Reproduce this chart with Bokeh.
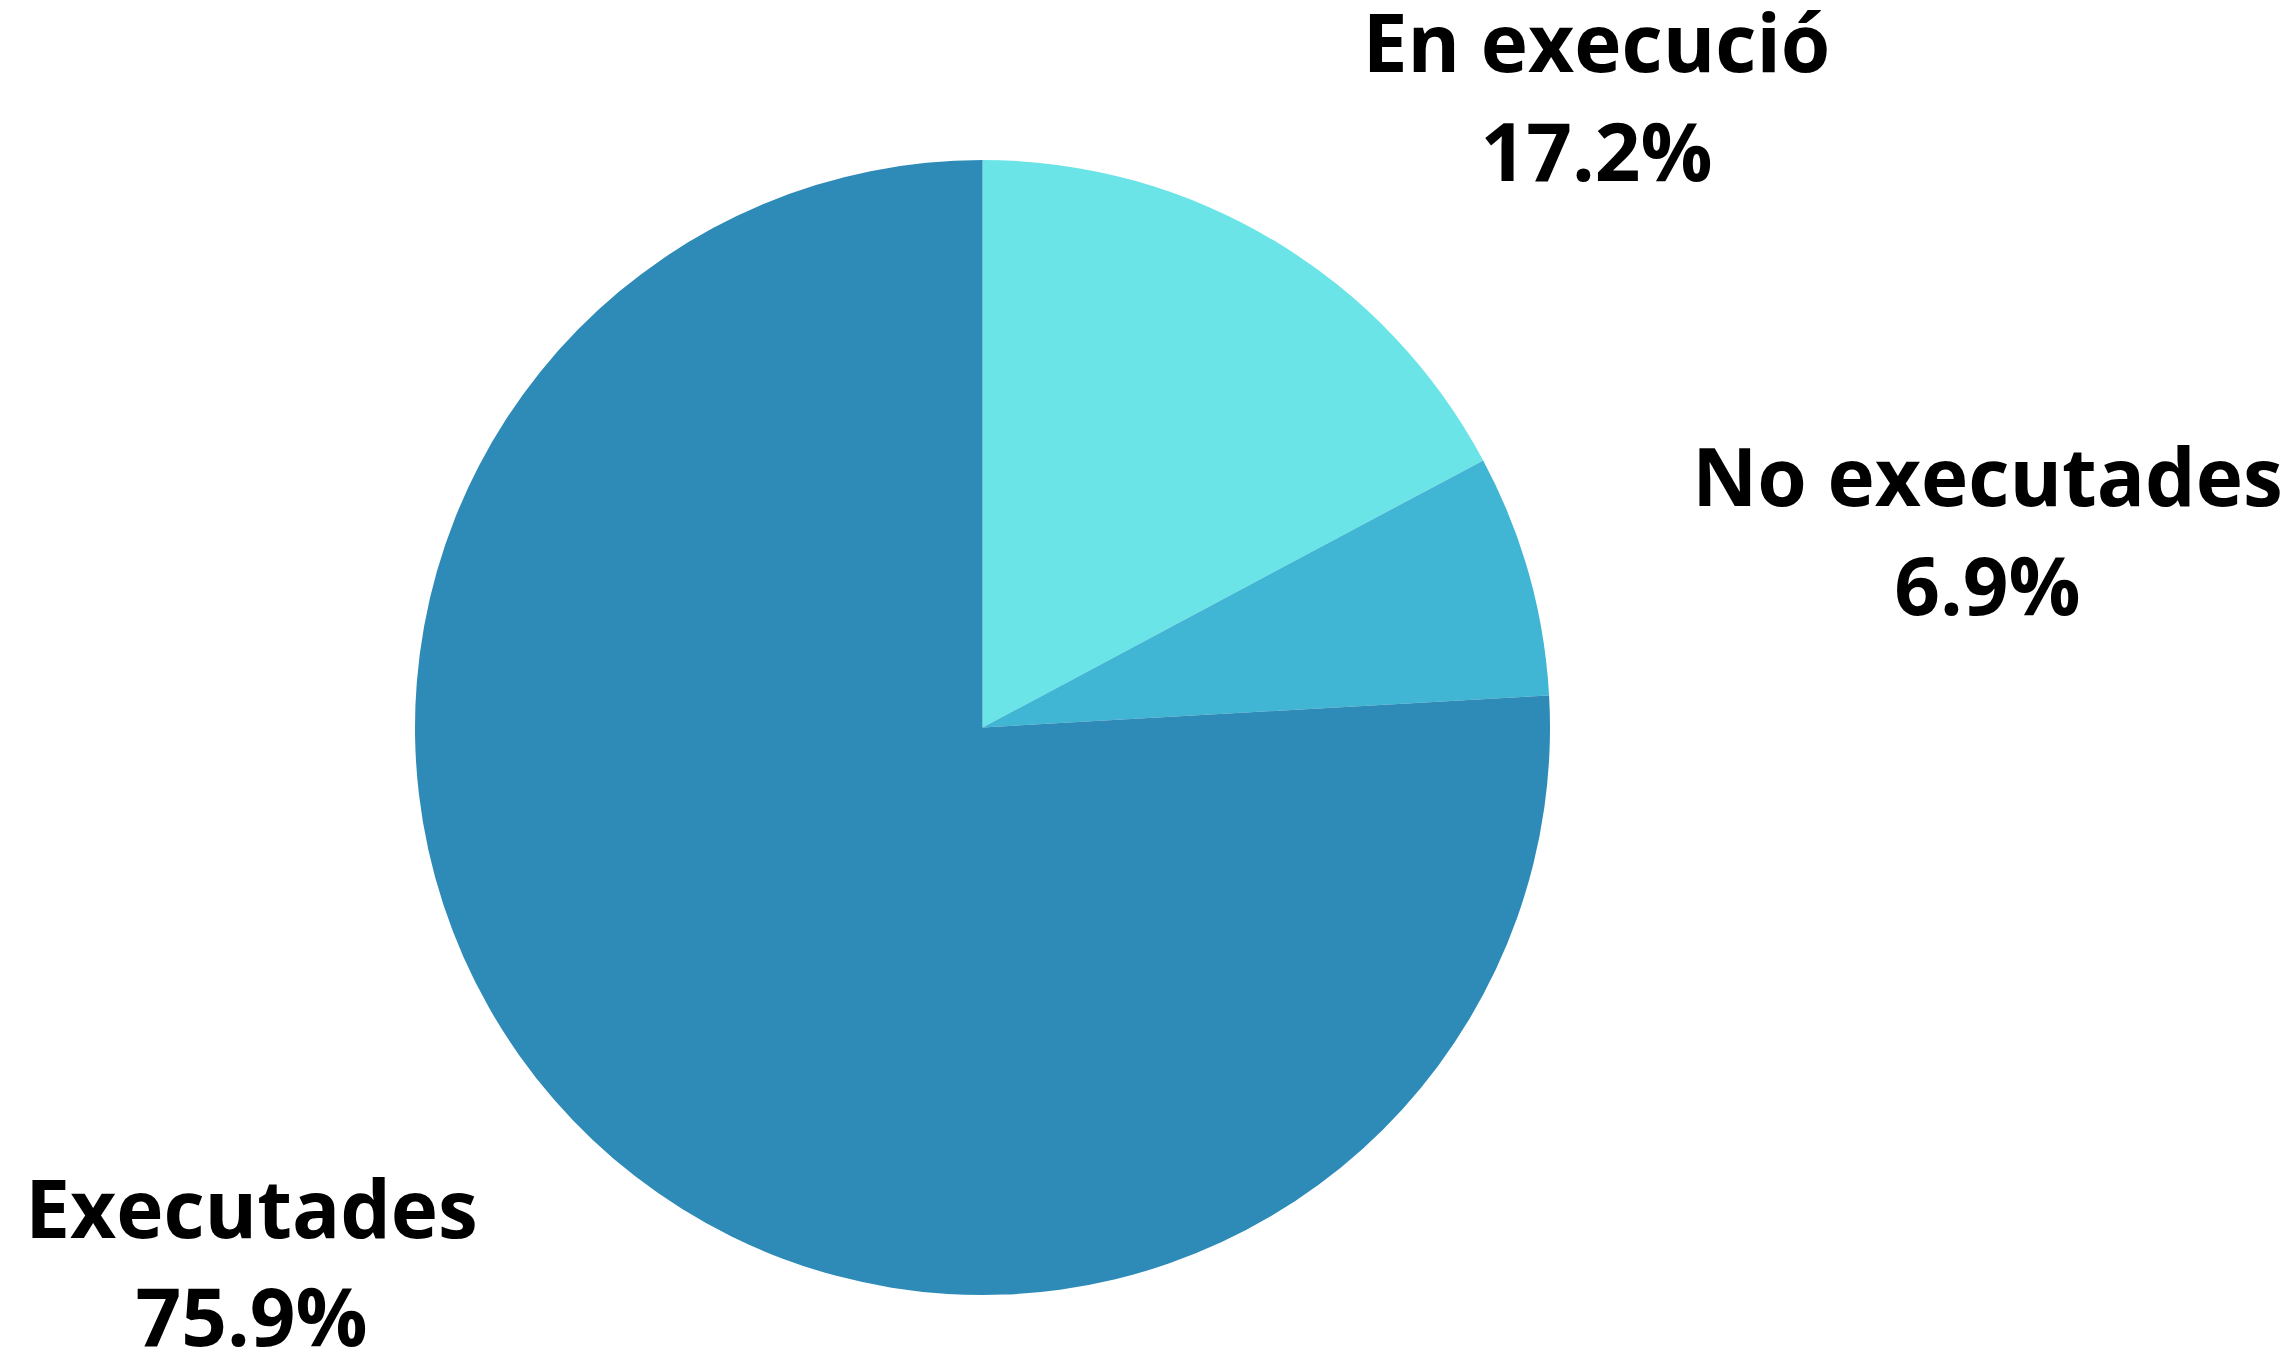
import numpy as np
from bokeh.plotting import figure
from bokeh.models import Range1d, ColumnDataSource
from bokeh.core.properties import value
from bokeh.embed import file_html
from bokeh.resources import INLINE

# ---- data ----
categories = ["En execució", "No executades", "Executades"]
shares = [17.2, 6.9, 75.9]
slice_colors = ["#6AE4E7", "#41B6D4", "#2E8BB8"]

# ---- layout (screen pixels of the page; Bokeh page has no body margin) ----
W, H = 2293, 1355
center_px = (982, 727)
radius_px = 567.5
# label anchor points (center x, name baseline y, percent baseline y) in screen pixels
label_anchor = {
    "En execució": (1596, 74, 183),
    "No executades": (1987, 508, 617),
    "Executades": (251, 1240, 1348),
}
baseline_fix = 34   # compensation for Bokeh's alphabetic baseline placement
font_px = "80px"

vals = np.array(shares, dtype=float)
frac = vals / vals.sum()
cum_end = np.cumsum(frac) * 360.0
cum_start = cum_end - frac * 360.0
start_angle = np.deg2rad(90.0 - cum_end)
end_angle = np.deg2rad(90.0 - cum_start)

cx, cy = center_px[0], H - center_px[1]

src = ColumnDataSource(dict(
    x=[cx] * len(categories), y=[cy] * len(categories),
    start=start_angle, end=end_angle, color=slice_colors, cat=categories,
))

p = figure(width=W, height=H, output_backend="svg", toolbar_location=None,
           x_range=Range1d(0, W), y_range=Range1d(0, H), min_border=0)
p.axis.visible = False
p.grid.visible = False
p.outline_line_color = None
p.background_fill_color = "white"
p.border_fill_color = "white"

p.wedge(x="x", y="y", radius=radius_px, start_angle="start", end_angle="end",
        direction="anticlock", fill_color="color", line_color=None, source=src)

names_x, names_y, pct_y, pct_txt = [], [], [], []
for c, v in zip(categories, shares):
    ax, ay1, ay2 = label_anchor[c]
    names_x.append(ax)
    names_y.append(H - (ay1 - baseline_fix))
    pct_y.append(H - (ay2 - baseline_fix))
    pct_txt.append(f"{v:.1f}%")

lab = ColumnDataSource(dict(x=names_x, y=names_y, y2=pct_y, name=categories, pct=pct_txt))
p.text(x="x", y="y", text="name", source=lab, text_font=value("Open Sans"),
       text_font_style="bold", text_font_size=font_px, text_align="center",
       text_baseline="alphabetic", text_color="black")
p.text(x="x", y="y2", text="pct", source=lab, text_font=value("Open Sans"),
       text_font_style="bold", text_font_size=font_px, text_align="center",
       text_baseline="alphabetic", text_color="black")

open("out.html", "w").write(file_html(p, INLINE))
